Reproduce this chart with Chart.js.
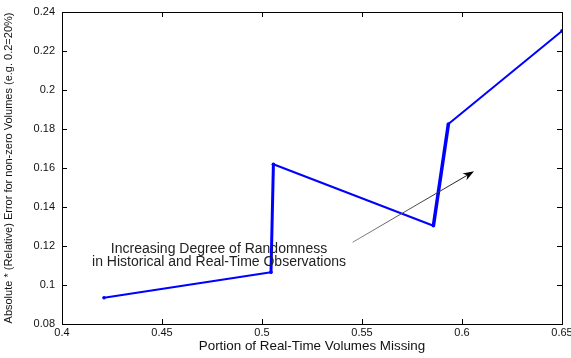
<!DOCTYPE html>
<html>
<head>
<meta charset="utf-8">
<script src="https://cdn.jsdelivr.net/npm/chart.js@4"></script>
<style>
  html, body { margin: 0; padding: 0; background: #fff; }
  #wrap { width: 571px; height: 358px; }
</style>
</head>
<body>
<div id="wrap"><canvas id="chart" width="571" height="358"></canvas></div>
<script>
// data
const missing = [0.421, 0.5045, 0.5057, 0.5857, 0.5932, 0.65];
const errors = [0.0935, 0.1065, 0.1619, 0.1304, 0.1826, 0.2303];
const segWidths = [2, 3, 2, 3.5, 2];

const xMin = 0.4, xMax = 0.65, xStep = 0.05;
const yMin = 0.08, yMax = 0.24, yStep = 0.02;

const noteLines = ['Increasing Degree of Randomness', 'in Historical and Real-Time Observations'];
const notePos = { x: 0.4785, y: [0.1185, 0.1118] };
const arrowFrom = { x: 0.5453, y: 0.1219 };
const arrowTo = { x: 0.606, y: 0.1583 };

const FONT = '"Liberation Sans", Arial, sans-serif';

function fmt(v) {
    return String(Number(v.toFixed(2)));
}

// box, inward ticks, note text and arrow
const decor = {
    id: 'decor',
    afterDraw(chart) {
        const ctx = chart.ctx;
        const a = chart.chartArea;
        const xs = chart.scales.x, ys = chart.scales.y;
        ctx.save();
        ctx.strokeStyle = '#000';
        ctx.lineWidth = 1;
        ctx.strokeRect(Math.round(a.left) + 0.5, Math.round(a.top) + 0.5,
            Math.round(a.right - a.left), Math.round(a.bottom - a.top));

        const tl = 5;
        ctx.beginPath();
        xs.ticks.forEach(t => {
            const px = Math.round(xs.getPixelForValue(t.value)) + 0.5;
            ctx.moveTo(px, a.bottom); ctx.lineTo(px, a.bottom - tl);
            ctx.moveTo(px, a.top); ctx.lineTo(px, a.top + tl);
        });
        ys.ticks.forEach(t => {
            const py = Math.round(ys.getPixelForValue(t.value)) + 0.5;
            ctx.moveTo(a.left, py); ctx.lineTo(a.left + tl, py);
            ctx.moveTo(a.right, py); ctx.lineTo(a.right - tl, py);
        });
        ctx.stroke();

        // note
        ctx.fillStyle = '#222';
        ctx.font = '14px ' + FONT;
        ctx.textAlign = 'center';
        ctx.textBaseline = 'middle';
        noteLines.forEach((s, i) => {
            ctx.fillText(s, xs.getPixelForValue(notePos.x), ys.getPixelForValue(notePos.y[i]));
        });

        // arrow
        const x1 = xs.getPixelForValue(arrowFrom.x), y1 = ys.getPixelForValue(arrowFrom.y);
        const x2 = xs.getPixelForValue(arrowTo.x), y2 = ys.getPixelForValue(arrowTo.y);
        const ang = Math.atan2(y2 - y1, x2 - x1);
        const grad = ctx.createLinearGradient(x1, y1, x2, y2);
        grad.addColorStop(0, '#888');
        grad.addColorStop(1, '#111');
        ctx.strokeStyle = grad;
        ctx.lineWidth = 1;
        ctx.beginPath();
        ctx.moveTo(x1, y1);
        ctx.lineTo(x2 - 6 * Math.cos(ang), y2 - 6 * Math.sin(ang));
        ctx.stroke();
        const hl = 11, hw = 4;
        ctx.fillStyle = '#000';
        ctx.beginPath();
        ctx.moveTo(x2, y2);
        ctx.lineTo(x2 - hl * Math.cos(ang) + hw * Math.sin(ang), y2 - hl * Math.sin(ang) - hw * Math.cos(ang));
        ctx.lineTo(x2 - hl * 0.7 * Math.cos(ang), y2 - hl * 0.7 * Math.sin(ang));
        ctx.lineTo(x2 - hl * Math.cos(ang) - hw * Math.sin(ang), y2 - hl * Math.sin(ang) + hw * Math.cos(ang));
        ctx.closePath();
        ctx.fill();
        ctx.restore();
    }
};

new Chart(document.getElementById('chart'), {
    type: 'line',
    data: {
        datasets: [{
            data: missing.map((x, i) => ({ x: x, y: errors[i] })),
            borderColor: '#0000ff',
            backgroundColor: '#0000ff',
            borderWidth: 2,
            pointRadius: 1.8,
            pointBorderWidth: 0,
            pointStyle: 'circle',
            tension: 0,
            segment: {
                borderWidth: c => segWidths[c.p0DataIndex]
            }
        }]
    },
    options: {
        responsive: false,
        animation: false,
        events: [],
        layout: { padding: { top: 12, right: 9, left: 0, bottom: 0 } },
        plugins: {
            legend: { display: false },
            tooltip: { enabled: false }
        },
        scales: {
            x: {
                type: 'linear',
                min: xMin,
                max: xMax,
                grid: { display: false, drawTicks: false },
                border: { display: false },
                ticks: {
                    stepSize: xStep,
                    padding: 2,
                    maxRotation: 0,
                    color: '#111',
                    font: { family: FONT, size: 11 },
                    callback: v => fmt(v)
                },
                title: {
                    display: true,
                    text: 'Portion of Real-Time Volumes Missing',
                    color: '#111',
                    font: { family: FONT, size: 13.4 },
                    padding: { top: 0, bottom: 4 }
                },
                afterFit: s => { s.height = 34; s.paddingLeft = 0; s.paddingRight = 0; }
            },
            y: {
                min: yMin,
                max: yMax,
                grid: { display: false, drawTicks: false },
                border: { display: false },
                ticks: {
                    stepSize: yStep,
                    padding: 7,
                    color: '#111',
                    font: { family: FONT, size: 11 },
                    callback: v => fmt(v)
                },
                title: {
                    display: true,
                    text: 'Absolute * (Relative) Error for non-zero Volumes (e.g. 0.2=20%)',
                    color: '#111',
                    font: { family: FONT, size: 11 },
                    padding: { top: 2, bottom: 0 }
                },
                afterFit: s => { s.width = 62; s.paddingTop = 0; s.paddingBottom = 0; }
            }
        }
    },
    plugins: [decor]
});
</script>
</body>
</html>
